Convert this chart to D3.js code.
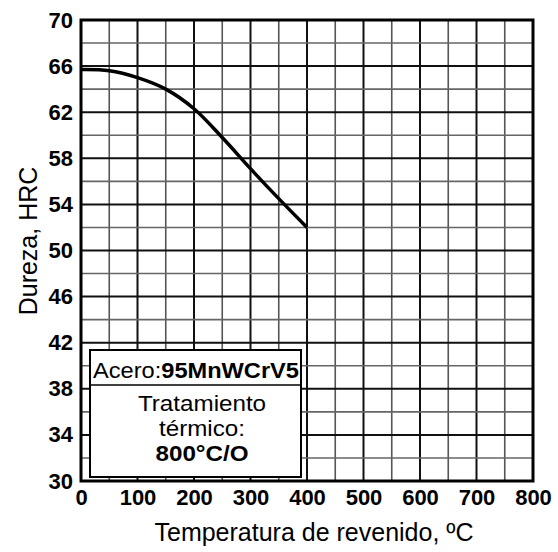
<!DOCTYPE html>
<html>
<head>
<meta charset="utf-8">
<script src="https://cdn.jsdelivr.net/npm/d3@7"></script>
<style>
  body { margin: 0; background: #fff; }
  svg { display: block; font-family: "Liberation Sans", Arial, sans-serif; }
</style>
</head>
<body>
<div id="chart"></div>
<script>
// Data
const temps = [0, 50, 100, 150, 200, 250, 300, 350, 400];
const hardness = [65.7, 65.6, 65.0, 64.0, 62.3, 59.8, 57.1, 54.5, 52.0];
const xTicks = [0, 100, 200, 300, 400, 500, 600, 700, 800];
const yTicks = [30, 34, 38, 42, 46, 50, 54, 58, 62, 66, 70];
const xTitle = "Temperatura de revenido, ºC";
const yTitle = "Dureza, HRC";
const steel = "95MnWCrV5";
const treatment = ["Tratamiento", "térmico:", "800°C/O"];

const width = 558, height = 552;
const margin = { top: 20, right: 25, bottom: 71, left: 81 };

const svg = d3.select("#chart").append("svg")
  .attr("width", width).attr("height", height);

const x = d3.scaleLinear().domain([0, 800]).range([margin.left, width - margin.right]);
const y = d3.scaleLinear().domain([30, 70]).range([height - margin.bottom, margin.top]);

// grid (every 50 / every 2), labelled lines darker
const grid = svg.append("g");
d3.range(50, 800, 50).forEach(v => {
  const major = v % 100 === 0;
  grid.append("line")
    .attr("x1", x(v)).attr("x2", x(v))
    .attr("y1", y(30)).attr("y2", y(70))
    .attr("stroke", major ? "#111" : "#555")
    .attr("stroke-width", major ? 2 : 1.6);
});
d3.range(32, 70, 2).forEach(v => {
  const major = (v - 30) % 4 === 0;
  grid.append("line")
    .attr("x1", x(0)).attr("x2", x(800))
    .attr("y1", y(v)).attr("y2", y(v))
    .attr("stroke", major ? "#111" : "#666")
    .attr("stroke-width", major ? 2 : 1.6);
});

// frame
svg.append("rect")
  .attr("x", x(0)).attr("y", y(70))
  .attr("width", x(800) - x(0)).attr("height", y(30) - y(70))
  .attr("fill", "none").attr("stroke", "#000").attr("stroke-width", 3);

// axes (labels only)
const xAxis = svg.append("g")
  .attr("transform", `translate(0,${y(30)})`)
  .call(d3.axisBottom(x).tickValues(xTicks).tickSize(0).tickPadding(8));
const yAxis = svg.append("g")
  .attr("transform", `translate(${x(0)},0)`)
  .call(d3.axisLeft(y).tickValues(yTicks).tickSize(0).tickPadding(8));
[xAxis, yAxis].forEach(g => {
  g.select(".domain").remove();
  g.selectAll("text")
    .attr("font-family", "'Liberation Sans', Arial, sans-serif")
    .attr("font-size", 22).attr("font-weight", "bold").attr("fill", "#000");
});
xAxis.selectAll("text").attr("dy", "0.71em");

// titles
svg.append("text")
  .attr("x", 314).attr("y", 541)
  .attr("text-anchor", "middle").attr("font-size", 25)
  .text(xTitle);
svg.append("text")
  .attr("transform", "translate(37,241) rotate(-90)")
  .attr("text-anchor", "middle").attr("font-size", 25)
  .text(yTitle);

// curve
const line = d3.line()
  .x((d, i) => x(temps[i]))
  .y(d => y(d))
  .curve(d3.curveCatmullRom.alpha(0.5));
svg.append("path")
  .datum(hardness)
  .attr("d", line)
  .attr("fill", "none").attr("stroke", "#000").attr("stroke-width", 3.5);

// legend box
const box = svg.append("g");
box.append("rect")
  .attr("x", 90).attr("y", 350).attr("width", 211).attr("height", 127)
  .attr("fill", "#fff").attr("stroke", "#000").attr("stroke-width", 2);
box.append("line")
  .attr("x1", 90).attr("x2", 301).attr("y1", 385).attr("y2", 385)
  .attr("stroke", "#000").attr("stroke-width", 1.5);
const t1 = box.append("g")
  .attr("transform", "translate(196,378) scale(1.05,1)")
  .append("text")
  .attr("text-anchor", "middle").attr("font-size", 22.5);
t1.append("tspan").text("Acero:");
t1.append("tspan").attr("font-weight", "bold").text(steel);
treatment.forEach((s, i) => {
  box.append("g")
    .attr("transform", `translate(202,${411 + i * 25}) scale(1.1,1)`)
    .append("text")
    .attr("text-anchor", "middle").attr("font-size", 22)
    .attr("font-weight", i === 2 ? "bold" : "normal")
    .text(s);
});
</script>
</body>
</html>
